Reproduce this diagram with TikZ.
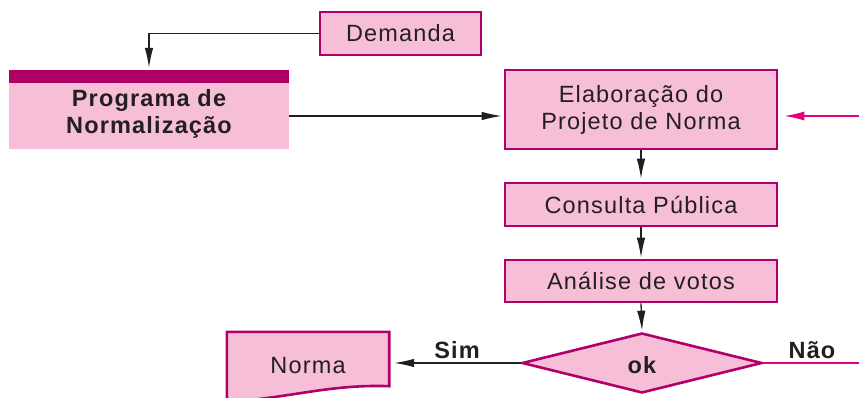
\documentclass[tikz,border=0pt]{standalone}
\usepackage{fontspec}
\setmainfont{Liberation Sans}[LetterSpace=5]
\usetikzlibrary{shapes.geometric,arrows.meta}
\definecolor{boxfill}{HTML}{F7BFD7}
\definecolor{boxline}{HTML}{B0006A}
\definecolor{barcol}{HTML}{AF0066}
\definecolor{hotpink}{HTML}{E6007E}
\definecolor{ink}{HTML}{231F20}
\tikzset{
  procbox/.style={draw=boxline, line width=2.6pt, fill=boxfill, inner sep=0pt,
    text=ink, align=center, font=\fontsize{23.5}{27}\selectfont},
  flow/.style={draw=ink, line width=1.3pt, -{Latex[length=20pt,width=8.5pt]}},
  pinkflow/.style={draw=hotpink, line width=1.3pt, -{Latex[length=20pt,width=9pt]}},
  tag/.style={text=ink, font=\fontsize{23.5}{27}\selectfont\bfseries, inner sep=0pt}
}
\begin{document}
\begin{tikzpicture}[x=1pt, y=-1pt]
  \clip (0,0) rectangle (859,398);
  \fill[white] (0,0) rectangle (859,398);

  % top-left block: coloured header bar above the programme box
  \node[fill=barcol, minimum width=280pt, minimum height=13pt, inner sep=0pt] (bar) at (149,76.5) {};
  \node[fill=boxfill, minimum width=280pt, minimum height=66pt, inner sep=0pt] (prog) at (149,116) {};
  \node[tag, align=center] (progtxt) at (149,114) {Programa de\\Normalização};

  \node[procbox, minimum width=161pt, minimum height=43pt] (dem) at (400.5,33.5) {\raisebox{-1.5pt}{Demanda}};
  \node[procbox, minimum width=272pt, minimum height=79pt] (elab) at (641,109.5) {Elaboração do\\Projeto de Norma};
  \node[procbox, minimum width=272pt, minimum height=43pt] (cons) at (641,204.5) {Consulta Pública};
  \node[procbox, minimum width=272pt, minimum height=42pt] (anal) at (641,281) {Análise de votos};
  \node[procbox, diamond, aspect=4, minimum width=240pt, minimum height=60pt] (ok) at (642,363) {};
  \node[tag] (oktxt) at (642,365) {ok};

  % document symbol with wavy lower edge
  \node[minimum width=162pt, minimum height=54pt, inner sep=0pt] (norma) at (308,359) {};
  \draw[draw=boxline, line width=2.6pt, fill=boxfill]
    (norma.south east) -- (norma.north east) -- (norma.north west) -- (227,420)
    -- (227,402) .. controls (290,398) and (330,384) .. (norma.south east) -- cycle;
  \node[text=ink, font=\fontsize{23.5}{27}\selectfont, inner sep=0pt] (normatxt) at (308,366) {Norma};

  \coordinate (feed) at (859,116);

  % connectors
  \draw[flow, shorten >=2pt] (dem.west) -| (bar.north);
  \draw[flow, shorten >=2pt] (prog.east) -- (prog.east -| elab.west);
  \draw[pinkflow, shorten >=6pt] (feed) -- (feed -| elab.east);
  \draw[flow, shorten >=3pt] (elab.south) -- (cons.north);
  \draw[flow, shorten >=1pt] (cons.south) -- (anal.north);
  \draw[flow, shorten >=1pt] (anal.south) -- (ok.north);
  \draw[flow, shorten >=5pt] (ok.west) -- (ok.west -| norma.east);
  \draw[draw=hotpink, line width=1.3pt] (ok.east) -- (ok.east -| feed);

  \node[tag] (sim) at (457,350) {Sim};
  \node[tag] (nao) at (812,350) {Não};
\end{tikzpicture}
\end{document}
